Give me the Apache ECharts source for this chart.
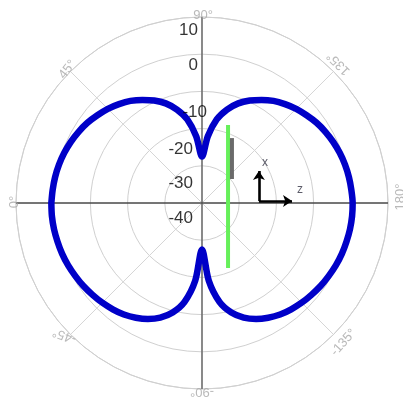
<!DOCTYPE html>
<html><head><meta charset="utf-8">
<script src="https://cdn.jsdelivr.net/npm/echarts@6/dist/echarts.min.js"></script>
<style>html,body{margin:0;padding:0;background:#fff}#c{width:403px;height:402px}</style>
</head><body><div id="c"></div>
<script>
// Pattern angles (deg, 0 = left, 90 = top, clockwise) and gain values (dB)
const angles = [0,5,10,15,20,25,30,35,40,45,50,55,60,65,70,75,80,85,90,95,100,105,110,115,120,125,130,135,140,145,150,155,160,165,170,175,180,185,190,195,200,205,210,215,220,225,230,235,240,245,250,255,260,265,270,275,280,285,290,295,300,305,310,315,320,325,330,335,340,345,350,355,360];
const gainDb = [0.5,0.3,0.1,-0.2,-0.6,-1.1,-1.7,-2.4,-3.3,-4.2,-5.3,-6.5,-8,-9.6,-11.5,-14,-17.2,-22,-27.5,-22,-17.2,-14,-11.5,-9.6,-8,-6.5,-5.3,-4.2,-3.3,-2.4,-1.7,-1.1,-0.6,-0.2,0.1,0.3,0.5,0.5,0.4,0.2,0,-0.3,-0.7,-1.1,-1.6,-2.1,-2.7,-3.4,-4.4,-5.6,-7.2,-9.5,-13,-19,-27.5,-19,-13,-9.5,-7.2,-5.6,-4.4,-3.4,-2.7,-2.1,-1.6,-1.1,-0.7,-0.3,0,0.2,0.4,0.5,0.5];
// Radial ticks (dB) and angle tick labels
const radialTicks = [10,0,-10,-20,-30,-40];
const angleTicks = [0,45,90,135,180,225,270,315];
// Antenna sketch elements (in units of the outer radius, centred on the pole)
const dipoleGreen = [[0.14,0.419],[0.14,-0.349]];
const elementGray = [[0.161,0.349],[0.161,0.129]];
const axisOrigin = [0.306,0.011];
const axisXTip = [0.306,0.172];
const axisZTip = [0.484,0.011];
const axisLabels = [{name:'x', pos:[0.339,0.215]},{name:'z', pos:[0.527,0.07]}];

const rMin = -40, rMax = 10;
const FONT = '"Liberation Sans", Arial, sans-serif';
// label styling per tick: [screen dx, screen dy] / [rotation, screen dx, screen dy]
const radialLabelStyle = [[-4,13],[-4,11],[5,21],[-9,21],[-9,18],[-9,15]];
const angleLabelStyle = [[90,-2,-1],[52,-3,-2],[0,1,-2],[135,5,-8],[90,12,-6],[48,10,8],[180,0,3],[160,-6,1]];
function localOffset(rot, sx, sy){
  const t = rot*Math.PI/180, c = Math.cos(t), s = Math.sin(t);
  return [sx*c - sy*s, sx*s + sy*c];
}

const chart = echarts.init(document.getElementById('c'), null, {renderer:'canvas'});
const CX = 202, CY = 203, R = 186;
chart.setOption({
  animation:false,
  backgroundColor:'#fff',
  polar:{center:[CX,CY], radius:R},
  angleAxis:{type:'value', min:0, max:360, interval:45, startAngle:180, clockwise:true,
    axisLine:{show:true, lineStyle:{color:'#d0d0d0', width:1}},
    axisTick:{show:false}, axisLabel:{show:false},
    splitLine:{show:true, lineStyle:{color:'#d6d6d6', width:1}}},
  radiusAxis:{type:'value', min:rMin, max:rMax, interval:10,
    axisLine:{show:false}, axisTick:{show:false}, axisLabel:{show:false},
    splitLine:{show:true, lineStyle:{color:'#d0d0d0', width:1}}},
  grid:{left:CX-R, top:CY-R, width:2*R, height:2*R},
  xAxis:{type:'value', min:-1, max:1, show:false},
  yAxis:{type:'value', min:-1, max:1, show:false},
  series:[
    {type:'line', coordinateSystem:'polar', data:[[rMax,0],[rMax,180]], symbol:'none', silent:true,
      lineStyle:{color:'#000', width:1}, z:2},
    {type:'line', coordinateSystem:'polar', data:[[rMax,90],[rMax,270]], symbol:'none', silent:true,
      lineStyle:{color:'#555', width:1.3}, z:2},
    {type:'line', coordinateSystem:'polar', data:angles.map((a,i)=>[gainDb[i],a]), symbol:'none', smooth:0.3,
      lineStyle:{color:'#0000c8', width:6.5, join:'round', cap:'round'}, z:5},
    {type:'line', xAxisIndex:0, yAxisIndex:0, data:dipoleGreen, symbol:'none',
      lineStyle:{color:'#66f05a', width:4}, z:6},
    {type:'line', xAxisIndex:0, yAxisIndex:0, data:elementGray, symbol:'none',
      lineStyle:{color:'#6a6a6a', width:4}, z:7},
    {type:'lines', coordinateSystem:'cartesian2d', xAxisIndex:0, yAxisIndex:0, z:8,
      symbol:['none','arrow'], symbolSize:9,
      lineStyle:{color:'#000', width:2.6, opacity:1, curveness:0},
      data:[{coords:[axisOrigin, axisXTip]},{coords:[axisOrigin, axisZTip]}]},
    {type:'scatter', xAxisIndex:0, yAxisIndex:0, symbolSize:0, z:9, zlevel:1,
      data:axisLabels.map(d=>({value:d.pos, name:d.name})),
      label:{show:true, position:'inside', formatter:'{b}', fontFamily:FONT, fontSize:12, color:'#334'}},
    {type:'scatter', coordinateSystem:'polar', symbolSize:0, z:10, zlevel:1,
      data:radialTicks.map((v,i)=>({value:[v,90], label:{offset:radialLabelStyle[i]}})),
      label:{show:true, position:'inside', align:'right', verticalAlign:'middle',
        formatter:p=>String(p.value[0]), fontFamily:FONT, fontSize:17, color:'#000'}},
    {type:'scatter', coordinateSystem:'polar', symbolSize:0, z:10, zlevel:1,
      data:angleTicks.map((a,i)=>({value:[rMax,a], label:{rotate:angleLabelStyle[i][0],
        offset:localOffset(angleLabelStyle[i][0], angleLabelStyle[i][1], angleLabelStyle[i][2])}})),
      label:{show:true, position:'inside', align:'center', verticalAlign:'middle',
        formatter:p=>{const a=p.value[1]; return (a>180?a-360:a)+'°';}, fontFamily:FONT, fontSize:13, color:'#a8a8a8'}}
  ]
});
</script></body></html>
